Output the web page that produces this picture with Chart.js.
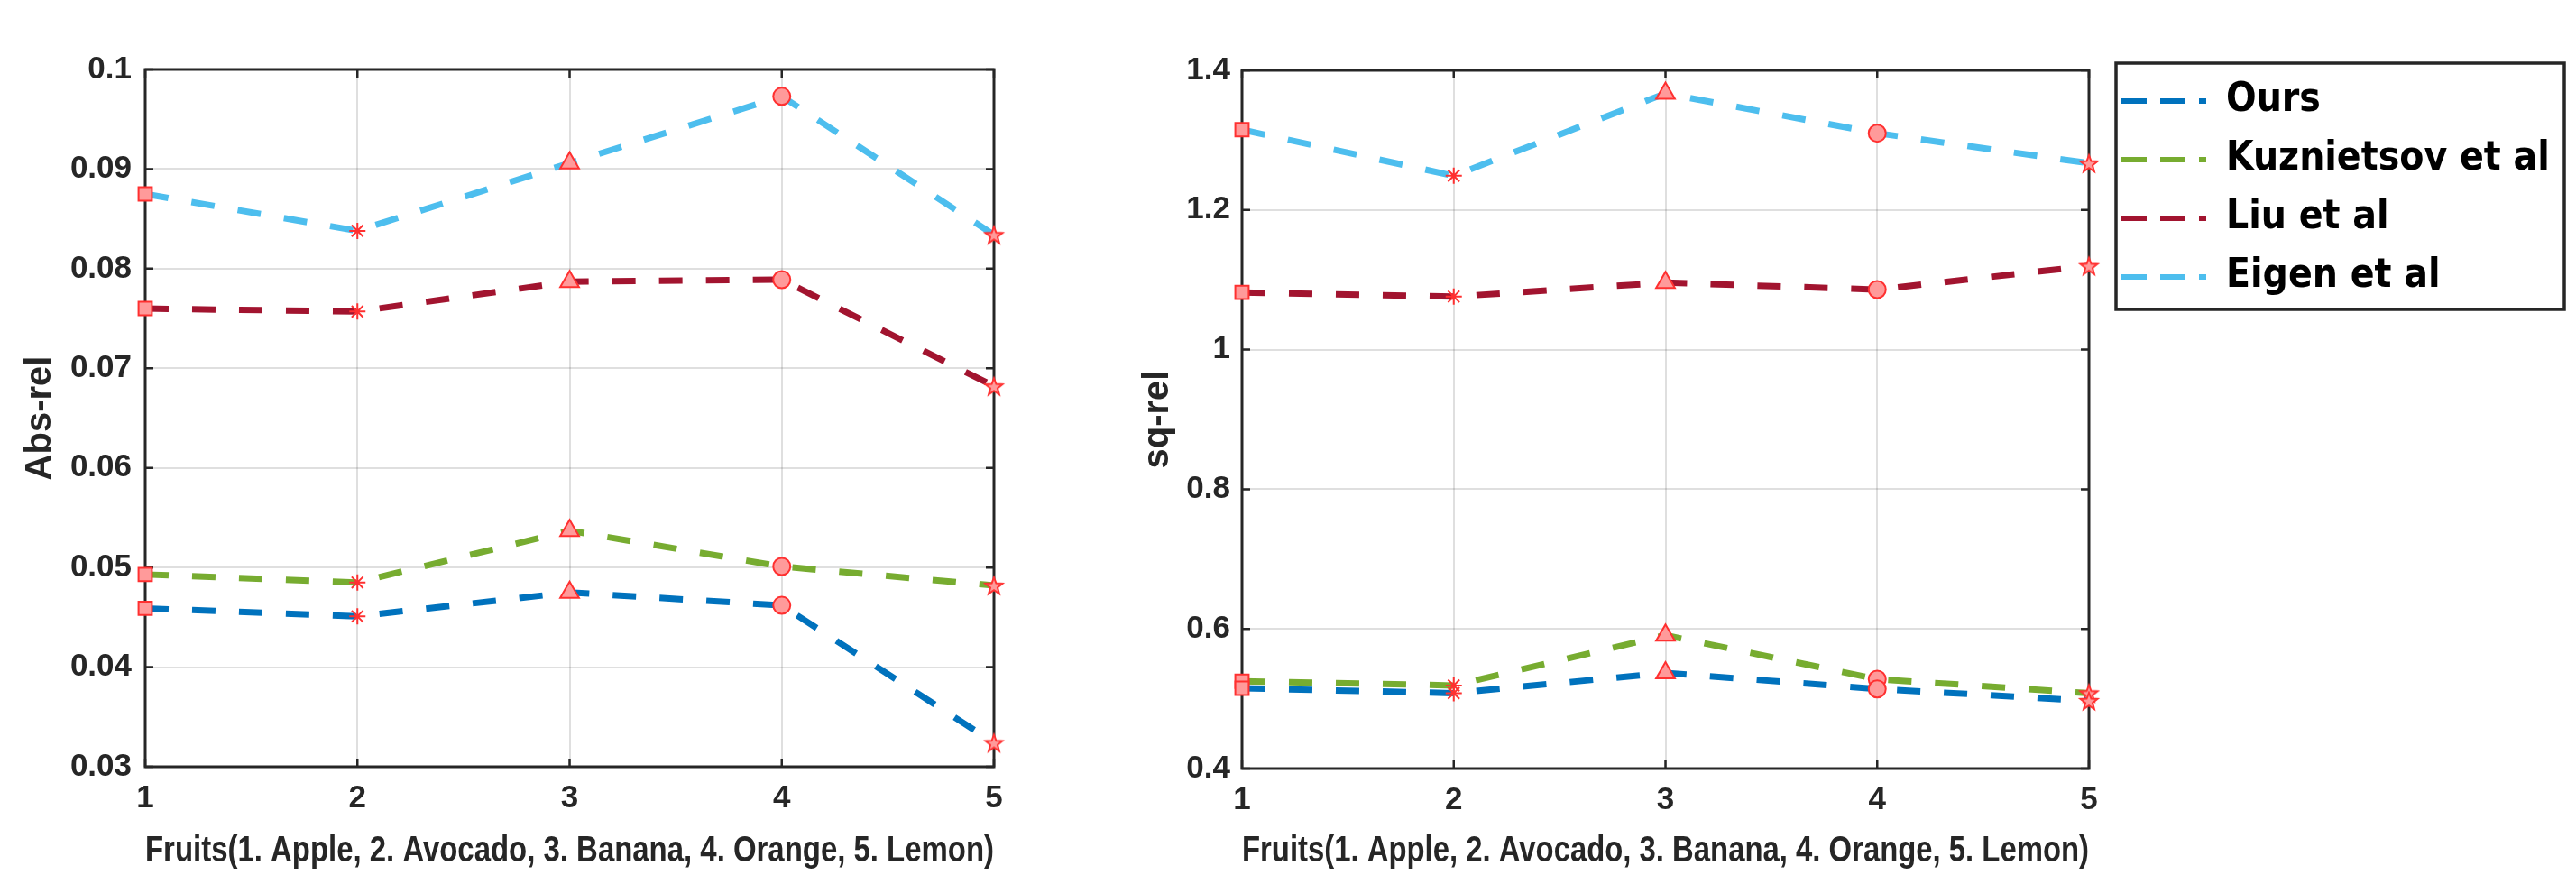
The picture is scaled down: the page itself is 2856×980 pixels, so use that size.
<!DOCTYPE html>
<html>
<head>
<meta charset="utf-8">
<title>Abs-rel / sq-rel per fruit</title>
<script src="https://cdn.jsdelivr.net/npm/chart.js@4.4.1/dist/chart.umd.min.js"></script>
<style>
  html, body { margin: 0; padding: 0; background: #fff; }
  #wrap { position: relative; width: 2856px; height: 980px; overflow: hidden; }
  #absChart { position: absolute; left: 0; top: 0; }
  #sqChart { position: absolute; left: 1240px; top: 0; }
</style>
</head>
<body>
<div id="wrap">
  <canvas id="absChart" width="1240" height="980"></canvas>
  <canvas id="sqChart" width="1616" height="980"></canvas>
</div>
<script>
// Data
const fruitLabels = ["1", "2", "3", "4", "5"]
const seriesNames = ["Ours", "Kuznietsov et al", "Liu et al", "Eigen et al"]

const absOurs = [0.0459, 0.0451, 0.0475, 0.0462, 0.0324]
const absKuz = [0.0493, 0.0485, 0.0537, 0.0501, 0.0482]
const absLiu = [0.0760, 0.0757, 0.0787, 0.0789, 0.0682]
const absEigen = [0.0875, 0.0838, 0.0906, 0.0973, 0.0834]

const sqOurs = [0.515, 0.508, 0.537, 0.514, 0.497]
const sqKuz = [0.525, 0.519, 0.591, 0.528, 0.508]
const sqLiu = [1.082, 1.076, 1.096, 1.086, 1.120]
const sqEigen = [1.315, 1.249, 1.367, 1.310, 1.267]

const absTicks = [0.03, 0.04, 0.05, 0.06, 0.07, 0.08, 0.09, 0.1]
const sqTicks = [0.4, 0.6, 0.8, 1, 1.2, 1.4]

// Styles
const lineColors = ["#0072BD", "#77AC30", "#A2142F", "#4DBEEE"]
const axisColor = "#262626"
const gridColor = "rgba(38, 38, 38, 0.15)"
const markerFill = "#ff9a9a"
const markerEdge = "#ff3030"
const tickFont = { family: "'Liberation Sans', Arial, sans-serif", size: 35, weight: "bold" }
const titleFont = { family: "'Liberation Sans', Arial, sans-serif", size: 40, weight: "bold" }
const legendFont = { family: "'DejaVu Sans Condensed', 'DejaVu Sans', sans-serif", size: 44, weight: "bold" }
const xTitle = "Fruits(1. Apple, 2. Avocado, 3. Banana, 4. Orange, 5. Lemon)"

// five-pointed star marker (pentagram) drawn on a small canvas
function makePentagram(r) {
  const s = Math.ceil(r * 2 + 6)
  const c = document.createElement("canvas")
  c.width = s
  c.height = s
  const g = c.getContext("2d")
  g.translate(s / 2, s / 2 + r * 0.1)
  g.beginPath()
  for (let i = 0; i < 10; i++) {
    const rad = i % 2 ? r * 0.42 : r
    const a = -Math.PI / 2 + (i * Math.PI) / 5
    g.lineTo(Math.cos(a) * rad, Math.sin(a) * rad)
  }
  g.closePath()
  g.fillStyle = markerFill
  g.fill()
  g.strokeStyle = markerEdge
  g.lineWidth = 2
  g.stroke()
  return c
}

const pentagram = makePentagram(10)
const markerStyles = ["rect", "star", "triangle", "circle", pentagram]
const markerSizes = [10.5, 9, 12, 9.5, 10]

function makeDatasets(values) {
  return values.map((data, i) => ({
    label: seriesNames[i],
    data: data,
    borderColor: lineColors[i],
    backgroundColor: lineColors[i],
    borderWidth: 7,
    borderDash: [26, 26],
    tension: 0,
    fill: false,
    clip: false,
    pointStyle: markerStyles,
    pointRadius: markerSizes,
    pointHoverRadius: markerSizes,
    pointBackgroundColor: markerFill,
    pointBorderColor: markerEdge,
    pointBorderWidth: 2,
  }))
}

// MATLAB-like box with inward ticks
const axesBox = {
  id: "axesBox",
  beforeDatasetsDraw(chart) {
    const { ctx, chartArea: a } = chart
    const x = chart.scales.x
    const y = chart.scales.y
    ctx.save()
    ctx.strokeStyle = axisColor
    ctx.lineWidth = 2.5
    ctx.beginPath()
    y.ticks.forEach((t) => {
      const py = y.getPixelForValue(t.value)
      ctx.moveTo(a.left, py)
      ctx.lineTo(a.left + 9, py)
      ctx.moveTo(a.right, py)
      ctx.lineTo(a.right - 9, py)
    })
    x.ticks.forEach((t, i) => {
      const px = x.getPixelForTick(i)
      ctx.moveTo(px, a.bottom)
      ctx.lineTo(px, a.bottom - 9)
      ctx.moveTo(px, a.top)
      ctx.lineTo(px, a.top + 9)
    })
    ctx.stroke()
    ctx.lineWidth = 3
    ctx.strokeRect(a.left, a.top, a.width, a.height)
    ctx.restore()
  },
}

// lift the legend a little above the plot top, then frame it
const legendFrame = {
  id: "legendFrame",
  afterLayout(chart) {
    const lg = chart.legend
    lg.top -= 9
    lg.bottom -= 9
  },
  afterDraw(chart) {
    const lg = chart.legend
    if (!lg || !lg.options.display) return
    const ctx = chart.ctx
    ctx.save()
    ctx.strokeStyle = axisColor
    ctx.lineWidth = 3.5
    ctx.strokeRect(lg.left + 15, lg.top + 1, 497, 273)
    ctx.restore()
  },
}

function xScale(height) {
  return {
    type: "category",
    offset: false,
    grid: { color: gridColor, lineWidth: 2, drawTicks: false },
    border: { display: false },
    ticks: { color: axisColor, font: tickFont, padding: 14, maxRotation: 0, autoSkip: false },
    title: { display: true, text: xTitle, color: axisColor, font: titleFont, padding: { top: 0, bottom: 12 } },
    afterFit: (s) => {
      s.height = height
    },
  }
}

function yScale(ticks, digits, label, width, titlePad, tickPad) {
  return {
    type: "linear",
    min: ticks[0],
    max: ticks[ticks.length - 1],
    afterBuildTicks: (s) => {
      s.ticks = ticks.map((v) => ({ value: v }))
    },
    grid: { color: gridColor, lineWidth: 2, drawTicks: false },
    border: { display: false },
    ticks: {
      color: axisColor,
      font: tickFont,
      padding: tickPad,
      callback: (v) => String(+v.toFixed(digits)),
    },
    title: { display: true, text: label, color: axisColor, font: titleFont, padding: { top: titlePad, bottom: 0 } },
    afterFit: (s) => {
      s.width = width
    },
  }
}

Chart.defaults.font.family = tickFont.family

// Abs-rel chart
new Chart(document.getElementById("absChart"), {
  type: "line",
  data: {
    labels: fruitLabels,
    datasets: makeDatasets([absOurs, absKuz, absLiu, absEigen]),
  },
  options: {
    responsive: false,
    animation: false,
    layout: { padding: { top: 77, right: 138, bottom: 0, left: 0 } },
    scales: {
      x: xScale(130),
      y: yScale(absTicks, 2, "Abs-rel", 161, 21, 15),
    },
    plugins: {
      legend: { display: false },
      tooltip: { enabled: false },
    },
  },
  plugins: [axesBox],
})

// sq-rel chart with the legend
new Chart(document.getElementById("sqChart"), {
  type: "line",
  data: {
    labels: fruitLabels,
    datasets: makeDatasets([sqOurs, sqKuz, sqLiu, sqEigen]),
  },
  options: {
    responsive: false,
    animation: false,
    layout: { padding: { top: 78, right: 25, bottom: 0, left: 0 } },
    scales: {
      x: xScale(128),
      y: yScale(sqTicks, 1, "sq-rel", 137, 20, 13),
      // empty spacer between the plot and the legend
      gap: {
        type: "linear",
        position: "right",
        display: true,
        grid: { display: false, drawTicks: false },
        border: { display: false },
        ticks: { display: false },
        afterFit: (s) => {
          s.width = 15
        },
      },
    },
    plugins: {
      tooltip: { enabled: false },
      legend: {
        display: true,
        position: "right",
        align: "start",
        maxWidth: 500,
        labels: {
          usePointStyle: true,
          pointStyleWidth: 94,
          padding: 21,
          color: "#000",
          font: legendFont,
          generateLabels: (chart) =>
            Chart.defaults.plugins.legend.labels.generateLabels(chart).map((item) => {
              const color = chart.data.datasets[item.datasetIndex].borderColor
              return {
                ...item,
                pointStyle: "line",
                lineDash: [28, 15],
                lineWidth: 6,
                strokeStyle: color,
                fillStyle: color,
                fontColor: "#000",
              }
            }),
        },
      },
    },
  },
  plugins: [axesBox, legendFrame],
})
</script>
</body>
</html>
